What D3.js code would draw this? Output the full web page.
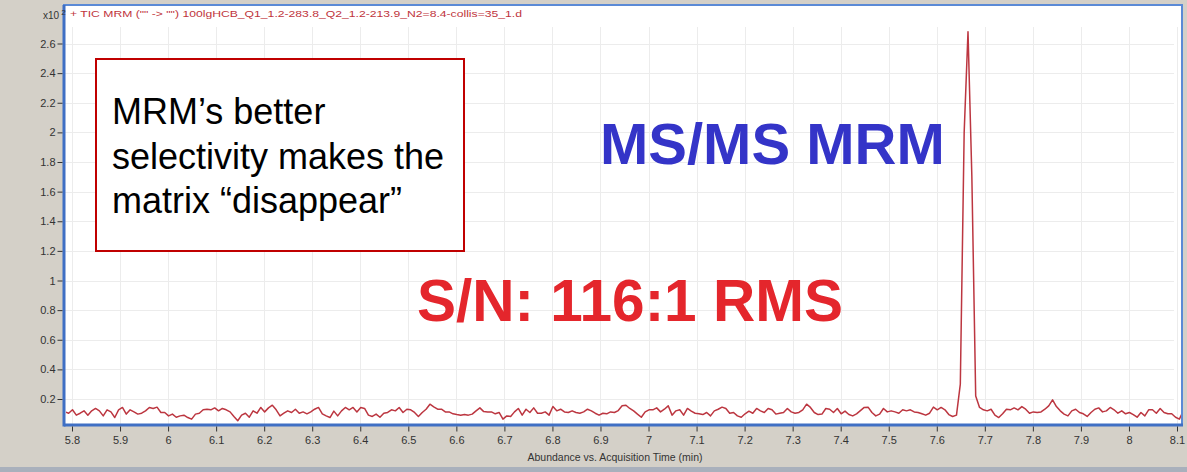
<!DOCTYPE html>
<html><head><meta charset="utf-8">
<script src="https://cdn.jsdelivr.net/npm/d3@7/dist/d3.min.js"></script>
<style>html,body{margin:0;padding:0;background:#d4d0c8;overflow:hidden}svg{display:block}</style>
</head><body><svg id="c" width="1187" height="472"></svg>
<script>
// Acquisition grid (evenly spaced MRM scans) and abundance readings (x10^2)
const scanStart = 5.785;
const scanInterval = 0.008;
const abundance = [
0.113,0.104,0.127,0.091,0.104,0.120,0.091,0.120,0.136,0.120,
0.086,0.127,0.113,0.075,0.127,0.143,0.098,0.127,0.113,0.098,
0.104,0.120,0.143,0.136,0.145,0.109,0.109,0.086,0.098,0.077,
0.086,0.091,0.075,0.064,0.098,0.104,0.127,0.131,0.127,0.140,
0.120,0.136,0.127,0.113,0.082,0.053,0.091,0.104,0.077,0.120,
0.104,0.143,0.113,0.140,0.158,0.127,0.086,0.104,0.120,0.109,
0.131,0.104,0.113,0.100,0.113,0.131,0.143,0.100,0.086,0.075,
0.118,0.086,0.120,
0.143,0.127,0.143,0.113,0.143,0.136,0.091,0.082,0.098,0.077,
0.104,0.109,0.127,0.120,0.143,0.109,0.131,0.127,0.109,0.082,
0.109,0.131,0.165,0.147,0.131,0.131,0.113,0.113,0.100,0.095,
0.091,0.095,0.091,0.098,0.120,0.140,0.115,0.113,0.113,0.100,
0.109,0.064,0.086,0.082,0.113,0.136,0.091,0.131,0.109,0.140,
0.104,0.104,0.113,0.091,0.149,0.120,0.131,0.113,0.109,0.120,
0.109,0.104,0.113,0.131,0.120,0.104,0.091,0.104,0.100,0.113,
0.109,0.122,0.154,
0.158,0.136,0.120,0.098,0.077,0.113,0.127,0.127,0.140,0.113,
0.131,0.154,0.091,0.120,0.127,0.091,0.136,0.118,0.104,0.100,
0.095,0.109,0.086,0.120,0.131,0.145,0.136,0.104,0.109,0.086,
0.077,0.100,0.118,0.104,0.136,0.120,0.109,0.136,0.127,0.098,
0.104,0.109,0.136,0.113,0.104,0.109,0.127,0.165,0.143,0.109,
0.095,0.098,0.136,0.131,0.109,0.136,0.100,0.118,0.095,0.086,
0.100,0.122,0.143,0.145,0.109,0.086,0.098,0.136,0.113,0.120,
0.113,0.104,0.127,
0.120,0.127,0.113,0.109,0.100,0.091,0.104,0.145,0.127,0.143,
0.127,0.095,0.082,0.091,0.30,2.00,2.68,1.70,0.22,0.143,
0.127,0.120,0.131,0.091,0.075,0.100,0.131,0.127,0.140,0.127,
0.149,0.131,0.104,0.113,0.109,0.113,0.131,0.154,0.194,0.149,
0.120,0.098,0.086,0.120,0.131,0.109,0.100,0.082,0.109,0.131,
0.140,0.113,0.120,0.143,0.127,0.104,0.120,0.100,0.109,0.095,
0.077,0.109,0.086,0.127,0.127,0.104,0.136,0.109,0.100,0.100,
0.077,0.064,0.120
];
const xTicks = [5.8,5.9,6,6.1,6.2,6.3,6.4,6.5,6.6,6.7,6.8,6.9,7,7.1,7.2,7.3,7.4,7.5,7.6,7.7,7.8,7.9,8,8.1];
const xTickLabels = ["5.8","5.9","6","6.1","6.2","6.3","6.4","6.5","6.6","6.7","6.8","6.9","7","7.1","7.2","7.3","7.4","7.5","7.6","7.7","7.8","7.9","8","8.1"];
const yTicks = [0.2,0.4,0.6,0.8,1,1.2,1.4,1.6,1.8,2,2.2,2.4,2.6];
const yTickLabels = ["0.2","0.4","0.6","0.8","1","1.2","1.4","1.6","1.8","2","2.2","2.4","2.6"];
const chartTitle = '+ TIC MRM ("" -> "") 100lgHCB_Q1_1.2-283.8_Q2_1.2-213.9_N2=8.4-collis=35_1.d';
const xAxisTitle = 'Abundance vs. Acquisition Time (min)';
const noteLines = ['MRM\u2019s better', 'selectivity makes the', 'matrix \u201cdisappear\u201d'];
const methodLabel = 'MS/MS MRM';
const snLabel = 'S/N: 116:1 RMS';

const svg = d3.select('#c');
const W = 1187, H = 472;
const frame = {left: 64, right: 1182, top: 5, bottom: 425};

const x = d3.scaleLinear().domain([5.8, 8.1]).range([72, 1177]);
const y = d3.scaleLinear().domain([0.2, 2.6]).range([399, 43.5]);

svg.append('rect').attr('width', W).attr('height', H).attr('fill', '#d4d0c8');
svg.append('rect').attr('x', 0).attr('y', 467).attr('width', W).attr('height', 5).attr('fill', '#a9b0bc');

// plot area
svg.append('rect').attr('x', frame.left).attr('y', frame.top)
  .attr('width', frame.right - frame.left).attr('height', frame.bottom - frame.top)
  .attr('fill', '#ffffff');

// grid
const grid = svg.append('g').attr('stroke', '#ececec').attr('stroke-width', 1);
grid.selectAll('line.v').data(xTicks).enter().append('line')
  .attr('x1', d => Math.round(x(d)) + 0.5).attr('x2', d => Math.round(x(d)) + 0.5)
  .attr('y1', frame.top + 22).attr('y2', frame.bottom);
grid.selectAll('line.h').data(yTicks).enter().append('line')
  .attr('x1', frame.left).attr('x2', frame.right - 8)
  .attr('y1', d => Math.round(y(d)) + 0.5).attr('y2', d => Math.round(y(d)) + 0.5);

// trace
svg.append('clipPath').attr('id', 'clip').append('rect')
  .attr('x', frame.left + 2).attr('y', frame.top)
  .attr('width', frame.right - frame.left - 3).attr('height', frame.bottom - frame.top);
const pts = abundance.map((v, i) => ({t: scanStart + i * scanInterval, v}));
svg.append('path').datum(pts)
  .attr('clip-path', 'url(#clip)')
  .attr('fill', 'none').attr('stroke', '#bc3640').attr('stroke-width', 1.5)
  .attr('stroke-linejoin', 'round')
  .attr('d', d3.line().x(d => x(d.t)).y(d => y(d.v)));

// frame
svg.append('rect').attr('x', frame.left).attr('y', frame.top)
  .attr('width', frame.right - frame.left).attr('height', frame.bottom - frame.top)
  .attr('fill', 'none').attr('stroke', '#5b8ad6').attr('stroke-width', 2);
svg.append('line').attr('x1', frame.left).attr('x2', frame.left)
  .attr('y1', frame.top).attr('y2', frame.bottom + 1.5)
  .attr('stroke', '#3f6fc4').attr('stroke-width', 3);
svg.append('line').attr('x1', frame.left).attr('x2', frame.right + 1)
  .attr('y1', frame.bottom).attr('y2', frame.bottom)
  .attr('stroke', '#3f6fc4').attr('stroke-width', 3);

// axes
const fontAxis = 'Arial, "Liberation Sans", sans-serif';
const yAxis = svg.append('g').attr('transform', `translate(${frame.left - 1.5},0)`)
  .call(d3.axisLeft(y).tickValues(yTicks).tickSize(5).tickPadding(2)
    .tickFormat((d, i) => yTickLabels[i]));
yAxis.select('.domain').remove();
yAxis.selectAll('line').attr('stroke', '#333');
yAxis.selectAll('text').attr('fill', '#333').style('font', `11px ${fontAxis}`);

const xAxis = svg.append('g').attr('transform', `translate(0,${frame.bottom + 1.5})`)
  .call(d3.axisBottom(x).tickValues(xTicks).tickSize(5).tickPadding(5)
    .tickFormat((d, i) => xTickLabels[i]));
xAxis.select('.domain').remove();
xAxis.selectAll('line').attr('stroke', '#333');
xAxis.selectAll('text').attr('fill', '#333').style('font', `11px ${fontAxis}`);

svg.append('text').attr('x', 615).attr('y', 461).attr('text-anchor', 'middle')
  .attr('fill', '#333').style('font', `10.5px ${fontAxis}`).text(xAxisTitle);

// x10^2
const mult = svg.append('text').attr('x', 43).attr('y', 19).attr('fill', '#333')
  .style('font', `10px ${fontAxis}`);
mult.append('tspan').text('x10');
mult.append('tspan').attr('dx', 2).attr('dy', -4).style('font-size', '8px').text('2');

// title
svg.append('text').attr('x', 70).attr('y', 17).attr('fill', '#c0343c')
  .style('font', `9.5px ${fontAxis}`).attr('textLength', 452).attr('lengthAdjust', 'spacingAndGlyphs')
  .text(chartTitle);

// annotation box
svg.append('rect').attr('x', 96).attr('y', 59).attr('width', 368).attr('height', 192)
  .attr('fill', '#ffffff').attr('stroke', '#c00000').attr('stroke-width', 2);
svg.append('g').selectAll('text').data(noteLines).enter().append('text')
  .attr('x', 112).attr('y', (d, i) => 124 + i * 44.6)
  .attr('fill', '#000').style('font', `36px ${fontAxis}`).text(d => d);

svg.append('text').attr('x', 600).attr('y', 164).attr('fill', '#3434c8')
  .style('font', `bold 58px ${fontAxis}`).text(methodLabel);
svg.append('text').attr('x', 417).attr('y', 321).attr('fill', '#e4262c')
  .style('font', `bold 58.5px ${fontAxis}`).text(snLabel);
</script></body></html>
